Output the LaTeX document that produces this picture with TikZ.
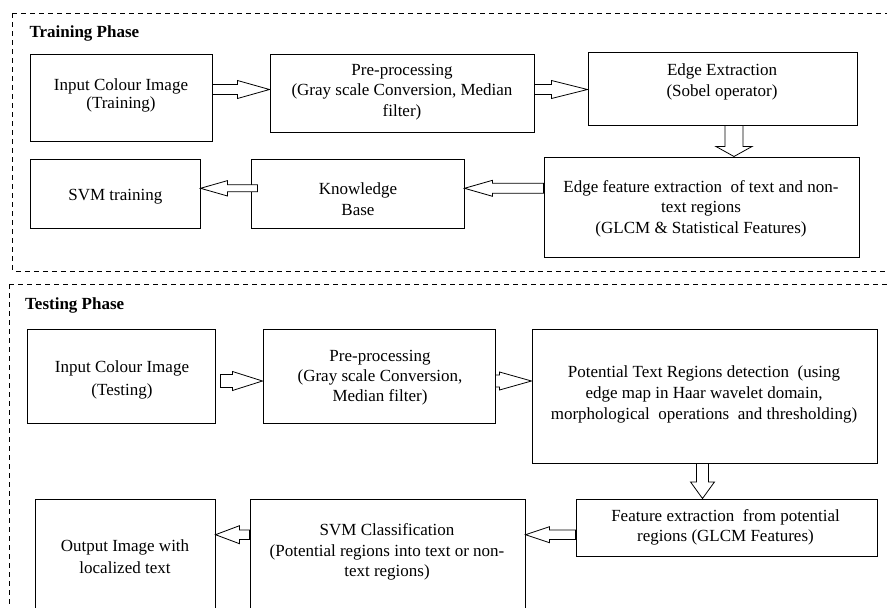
\documentclass[tikz,border=0pt]{standalone}
\usepackage{fontspec}
\setmainfont{Liberation Serif}
\usetikzlibrary{calc}
\tikzset{
  box/.style={draw=black, line width=1pt, inner sep=0pt},
  txt/.style={align=center, inner sep=0pt, font=\fontsize{17}{20.5}\selectfont},
  head/.style={anchor=base west, inner sep=0pt, font=\fontsize{17}{20}\selectfont\bfseries},
  frame/.style={dash pattern=on 5pt off 4pt, line width=0.9pt},
  barrow/.style={draw=black, line width=0.8pt, fill=white, line join=miter},
}
% horizontal hollow arrow: from, to, y-coordinate, half shaft, half head, signed offset tip->base
\newcommand\harr[6]{%
  \draw[barrow] let \p1=(#1), \p2=(#2), \p3=(#3) in
    (\x1,{\y3-#4}) -- ({\x2+(#6)},{\y3-#4}) -- ({\x2+(#6)},{\y3-#5}) -- (\x2,\y3)
    -- ({\x2+(#6)},{\y3+#5}) -- ({\x2+(#6)},{\y3+#4}) -- (\x1,{\y3+#4}) -- cycle;}
% vertical hollow arrow: from, to, x-coordinate, half shaft, half head, signed offset tip->base
\newcommand\varr[6]{%
  \draw[barrow] let \p1=(#1), \p2=(#2), \p3=(#3) in
    ({\x3-#4},\y1) -- ({\x3-#4},{\y2+(#6)}) -- ({\x3-#5},{\y2+(#6)}) -- (\x3,\y2)
    -- ({\x3+#5},{\y2+(#6)}) -- ({\x3+#4},{\y2+(#6)}) -- ({\x3+#4},\y1) -- cycle;}
\begin{document}
\begin{tikzpicture}[x=1pt,y=-1pt]
\useasboundingbox (0,0) rectangle (887,608);
\clip (0,0) rectangle (887,608);
\fill[white] (0,0) rectangle (887,608);

% frames
\draw[frame] (12.5,13.3) rectangle (900,271);
\draw[frame] (9.5,284) rectangle (900,660);

% headings
\node[head] (h1) at (29.3,37.7) {Training Phase};
\node[head] (h2) at (25,309.3) {Testing Phase};

% training boxes
\node[box, minimum width=182, minimum height=87] (b1) at (121,97.5) {};
\node[box, minimum width=264, minimum height=78] (b2) at (402,93) {};
\node[box, minimum width=269, minimum height=73] (b3) at (722.5,88.5) {};
\node[box, minimum width=315, minimum height=100] (b4) at (701.5,207) {};
\node[box, minimum width=213, minimum height=69] (b5) at (357.5,193.5) {};
\node[box, minimum width=170, minimum height=69] (b6) at (115,193.5) {};

\node[txt, font=\fontsize{17}{18}\selectfont] (t1) at (121,95.3) {Input Colour Image\\(Training)};
\node[txt] (t2) at (402,92) {Pre-processing\\(Gray scale Conversion, Median\\filter)};
\node[txt, font=\fontsize{17}{21}\selectfont] (t3) at (722,82.3) {Edge Extraction\\(Sobel operator)};
\node[txt] (t4) at (701,208.6) {Edge feature extraction\ \ of text and non-\\text regions\\(GLCM \& Statistical Features)};
\node[txt] (t5) at (358,199.3) {Knowledge\\Base};
\node[txt] (t6) at (115.3,196.3) {SVM training};

% testing boxes
\node[box, minimum width=188, minimum height=94] (c1) at (121,376) {};
\node[box, minimum width=232, minimum height=94] (c2) at (379,376) {};
\node[box, minimum width=345, minimum height=134] (c3) at (704.5,396) {};
\node[box, minimum width=301, minimum height=57] (c4) at (726.5,527.5) {};
\node[box, minimum width=275, minimum height=141] (c5) at (387.5,569.5) {};
\node[box, minimum width=180, minimum height=141] (c6) at (125,569.5) {};

\node[txt, font=\fontsize{17}{23}\selectfont] (s1) at (122,380) {Input Colour Image\\(Testing)};
\node[txt, font=\fontsize{17}{20}\selectfont] (s2) at (380,377.3) {Pre-processing\\(Gray scale Conversion,\\Median filter)};
\node[txt, font=\fontsize{17}{21.3}\selectfont] (s3) at (704,394.3) {Potential Text Regions detection\ \ (using\\edge map in Haar wavelet domain,\\morphological\ \ operations\ \ and thresholding)};
\node[txt, font=\fontsize{17}{20}\selectfont] (s4) at (725.5,527.3) {Feature extraction\ \ from potential\\regions (GLCM Features)};
\node[txt] (s5) at (387,552) {SVM Classification\\(Potential regions into text or non-\\text regions)};
\node[txt, font=\fontsize{17}{21.7}\selectfont] (s6) at (125,556.4) {Output Image with\\localized text};

% arrow axis coordinates
\coordinate (ya) at (0,89.5);
\coordinate (yb) at (0,188.3);
\coordinate (xa) at (734,0);
\coordinate (yc) at (0,381);
\coordinate (yd) at (0,534.7);
\coordinate (xb) at (702.5,0);

% training arrows
\harr{b1.east}{b2.west}{ya}{5pt}{9pt}{-32pt}
\harr{b2.east}{b3.west}{ya}{5pt}{9pt}{-36pt}
\varr{b3.south}{b4.north}{xa}{9pt}{18pt}{10pt}
\harr{b4.west}{b5.east}{yb}{5pt}{8pt}{28pt}
\harr{[xshift=7pt]b5.west}{b6.east}{yb}{3.5pt}{7.7pt}{27pt}

% testing arrows
\harr{[xshift=5pt]c1.east}{c2.west}{yc}{6.5pt}{9.5pt}{-30pt}
\harr{c2.east}{c3.west}{yc}{6pt}{9pt}{-32pt}
\varr{c3.south}{c4.north}{xb}{6pt}{12pt}{16.6pt}
\harr{c4.west}{c5.east}{yd}{4.7pt}{8pt}{24pt}
\harr{c5.west}{c6.east}{yd}{4.7pt}{9pt}{24pt}
\end{tikzpicture}
\end{document}
